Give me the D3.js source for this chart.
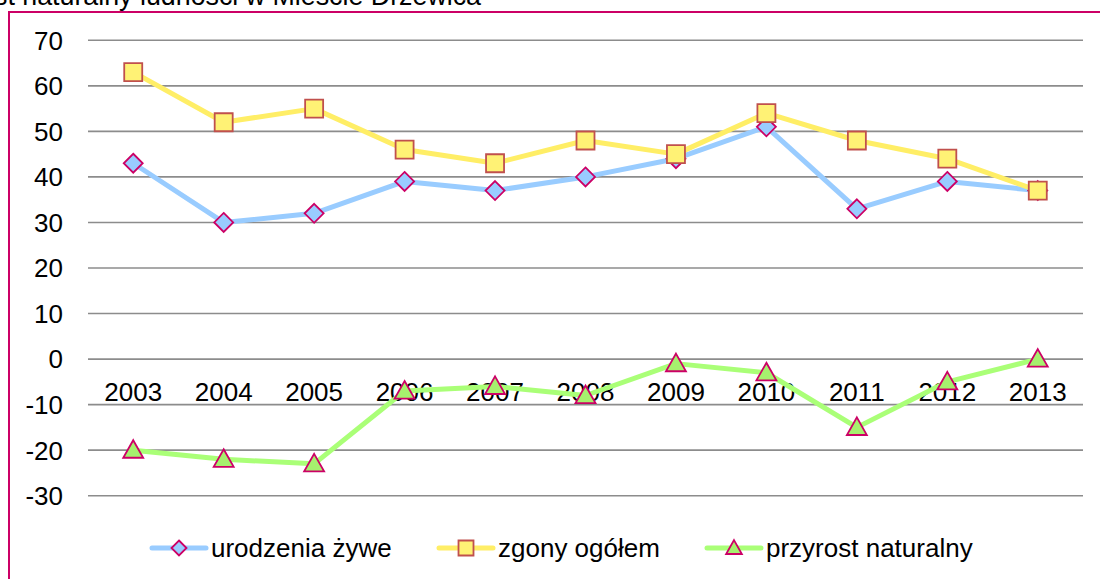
<!DOCTYPE html>
<html lang="pl">
<head>
<meta charset="UTF-8">
<title>Przyrost naturalny</title>
<style>
  body { margin: 0; background: #fff; }
  svg text { font-family: "Liberation Sans", Arial, sans-serif; fill: #000; }
</style>
</head>
<body>
<script src="https://d3js.org/d3.v7.min.js"></script>
<script>
// data
let years = ["2003", "2004", "2005", "2006", "2007", "2008", "2009", "2010", "2011", "2012", "2013"];
let urodzenia = [43, 30, 32, 39, 37, 40, 44, 51, 33, 39, 37];
let zgony = [63, 52, 55, 46, 43, 48, 45, 54, 48, 44, 37];
let przyrost = [-20, -22, -23, -7, -6, -8, -1, -3, -15, -5, 0];
let yTicks = [70, 60, 50, 40, 30, 20, 10, 0, -10, -20, -30];
let seriesNames = ["urodzenia żywe", "zgony ogółem", "przyrost naturalny"];

let svgWidth = 1100, svgHeight = 579;
let svg = d3.select("body").append("svg")
  .attr("width", svgWidth)
  .attr("height", svgHeight);

// chart frame (bottom/right cut off by the picture)
svg.append("rect")
  .attr("x", 9).attr("y", 12)
  .attr("width", 1200).attr("height", 700)
  .attr("fill", "none")
  .attr("stroke", "#cc0066")
  .attr("stroke-width", 2);

// title, left part falls outside the picture as in the original
svg.append("text")
  .attr("x", 481).attr("y", 5)
  .attr("text-anchor", "end")
  .style("font-size", "26.8px")
  .text("Przyrost naturalny ludności w Mieście Drzewica");

let x = d3.scaleBand().domain(years).range([88, 1083]);
let y = d3.scaleLinear().domain([-30, 70]).range([495.7, 40.3]);
let cx = d => x(d) + x.bandwidth() / 2;

// gridlines
svg.append("g").selectAll("line")
  .data(yTicks).enter().append("line")
  .attr("x1", 88).attr("x2", 1083)
  .attr("y1", d => y(d)).attr("y2", d => y(d))
  .attr("stroke", "#8c8c8c")
  .attr("stroke-width", 1.6);

// y labels
svg.append("g").selectAll("text")
  .data(yTicks).enter().append("text")
  .attr("x", 63).attr("y", d => y(d))
  .attr("dy", "0.36em")
  .attr("text-anchor", "end")
  .style("font-size", "26px")
  .text(d => d);

// category labels sit under the zero line
svg.append("g").selectAll("text")
  .data(years).enter().append("text")
  .attr("x", d => cx(d)).attr("y", y(0) + 42)
  .attr("text-anchor", "middle")
  .style("font-size", "26px")
  .text(d => d);

let series = [
  { name: seriesNames[0], values: urodzenia, line: "#99ccff", fill: "#99ccff", stroke: "#cc0066", shape: "diamond" },
  { name: seriesNames[1], values: zgony, line: "#ffee66", fill: "#fff275", stroke: "#c0504d", shape: "square" },
  { name: seriesNames[2], values: przyrost, line: "#aaff77", fill: "#a6f06e", stroke: "#cc0066", shape: "triangle" }
];

function markerPath(shape, s) {
  if (shape === "diamond") return `M0,${-s}L${s},0L0,${s}L${-s},0Z`;
  if (shape === "square") return `M${-s},${-s}H${s}V${s}H${-s}Z`;
  return `M0,${-s * 1.05}L${s * 1.05},${s * 0.8}H${-s * 1.05}Z`;
}

let line = d3.line().x((d, i) => cx(years[i])).y(d => y(d));

series.forEach(function(s) {
  svg.append("path")
    .datum(s.values)
    .attr("d", line)
    .attr("fill", "none")
    .attr("stroke", s.line)
    .attr("stroke-width", 5)
    .attr("stroke-linejoin", "round");

  svg.append("g").selectAll("path")
    .data(s.values).enter().append("path")
    .attr("transform", (d, i) => `translate(${cx(years[i])},${y(d)})`)
    .attr("d", markerPath(s.shape, s.shape === "square" ? 9 : 9.5))
    .attr("fill", s.fill)
    .attr("stroke", s.stroke)
    .attr("stroke-width", 1.8);
});

// legend
let legendX = [152, 439, 707];
let legendY = 548;
series.forEach(function(s, i) {
  let g = svg.append("g").attr("transform", `translate(${legendX[i]},${legendY})`);
  g.append("line")
    .attr("x1", 0).attr("x2", 54)
    .attr("stroke", s.line)
    .attr("stroke-width", 5)
    .attr("stroke-linecap", "round");
  g.append("path")
    .attr("transform", "translate(27,0)")
    .attr("d", markerPath(s.shape, 7.5))
    .attr("fill", s.fill)
    .attr("stroke", s.stroke)
    .attr("stroke-width", 1.8);
  g.append("text")
    .attr("x", 59).attr("dy", "0.36em")
    .style("font-size", "26px")
    .text(s.name);
});
</script>
</body>
</html>
